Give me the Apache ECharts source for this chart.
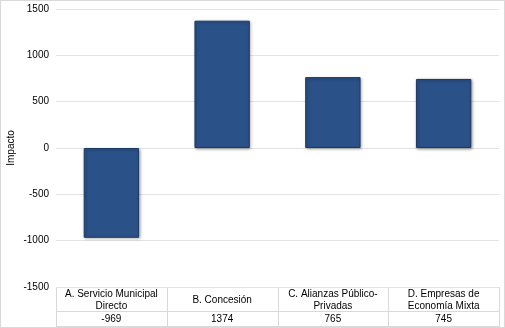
<!DOCTYPE html>
<html><head><meta charset="utf-8">
<script src="https://cdn.jsdelivr.net/npm/echarts@6/dist/echarts.min.js"></script>
<style>
html,body{margin:0;padding:0;background:#fff;}
#c{width:505px;height:328px;box-sizing:border-box;border:1px solid #d9d9d9;}
</style></head>
<body><div id="c"></div>
<script>
const categories = ['A. Servicio Municipal\nDirecto', 'B. Concesión', 'C. Alianzas Público-\nPrivadas', 'D. Empresas de\nEconomía Mixta'];
const values = [-969, 1374, 765, 745];
const yTicks = {min: -1500, max: 1500, interval: 500};
const yTitle = 'Impacto';

const chart = echarts.init(document.getElementById('c'));
const G = {left: 55, right: 5, top: 8, bottom: 40};
const W = 503, H = 326;
const x0 = G.left, x1 = W - G.right, yB = H - G.bottom;
const colW = (x1 - x0) / categories.length;
const gline = {stroke: '#d9d9d9', lineWidth: 1};
const graphics = [];
for (let i = 0; i <= categories.length; i++) {
  const x = Math.round(x0 + i * colW) + 0.5;
  graphics.push({type: 'line', shape: {x1: x, y1: yB, x2: x, y2: H}, style: gline, silent: true});
}
[yB + 24.5, H - 0.5].forEach(y => graphics.push({type: 'line', shape: {x1: x0, y1: y, x2: x1, y2: y}, style: gline, silent: true}));
graphics.push({type: 'text', x: 10, y: (G.top + yB) / 2, rotation: Math.PI / 2,
  style: {text: yTitle, fontSize: 10, fill: '#000', fontFamily: 'Liberation Sans, Arial, sans-serif', align: 'center', verticalAlign: 'middle'}, silent: true});

chart.setOption({
  animation: false,
  textStyle: {fontFamily: 'Liberation Sans, Arial, sans-serif'},
  grid: {left: G.left, right: G.right, top: G.top, bottom: G.bottom, containLabel: false, outerBoundsMode: 'none'},
  xAxis: [{
    type: 'category', data: categories, position: 'bottom',
    axisLine: {show: false}, axisTick: {show: false},
    axisLabel: {interval: 0, fontSize: 10, color: '#000', lineHeight: 12, margin: 13, verticalAlign: 'middle'}
  }, {
    type: 'category', data: values.map(String), position: 'bottom', offset: 27,
    axisLine: {show: false}, axisTick: {show: false},
    axisLabel: {interval: 0, fontSize: 10, color: '#000', margin: 5, verticalAlign: 'middle'}
  }],
  yAxis: {
    type: 'value', min: yTicks.min, max: yTicks.max, interval: yTicks.interval,
    axisLine: {show: false}, axisTick: {show: false},
    axisLabel: {fontSize: 10, color: '#000', margin: 7, formatter: v => String(v)},
    splitLine: {lineStyle: {color: '#e3e3e3', width: 1}}
  },
  series: [{
    type: 'bar', data: values, barWidth: '50%',
    itemStyle: {color: '#2b5189', borderColor: '#1c3a67', borderWidth: 1,
      shadowColor: 'rgba(0,0,0,0.35)', shadowBlur: 3, shadowOffsetX: 1, shadowOffsetY: 1}
  }],
  graphic: graphics
});
</script></body></html>
